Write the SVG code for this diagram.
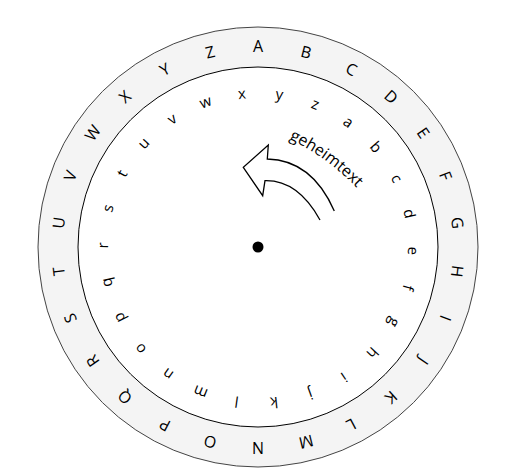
<svg xmlns="http://www.w3.org/2000/svg" width="505" height="472" viewBox="0 0 505 472">
<style>
.up{font-family:"Open Sans","Noto Sans",sans-serif;font-size:16px;fill:#000;text-anchor:middle}
.lo{font-family:"Open Sans","Noto Sans",sans-serif;font-size:15px;fill:#000;text-anchor:middle}
.lbl{font-family:"Open Sans","Noto Sans",sans-serif;font-size:16px;fill:#000}
</style>
<defs>
<path id="lblPath" d="M 289,139 Q 326.5,156.5 358,189"/>
</defs>
<rect width="505" height="472" fill="#fff"/>
<g id="outer-disc">
<circle cx="258" cy="247" r="220" fill="#f4f4f4" stroke="#444" stroke-width="1"/>
<g>
<text class="up" x="258" y="52" transform="rotate(0 258 247)">A</text>
<text class="up" x="258" y="52" transform="rotate(13.846 258 247)">B</text>
<text class="up" x="258" y="52" transform="rotate(27.692 258 247)">C</text>
<text class="up" x="258" y="52" transform="rotate(41.538 258 247)">D</text>
<text class="up" x="258" y="52" transform="rotate(55.385 258 247)">E</text>
<text class="up" x="258" y="52" transform="rotate(69.231 258 247)">F</text>
<text class="up" x="258" y="52" transform="rotate(83.077 258 247)">G</text>
<text class="up" x="258" y="52" transform="rotate(96.923 258 247)">H</text>
<text class="up" x="258" y="52" transform="rotate(110.769 258 247)">I</text>
<text class="up" x="258" y="52" transform="rotate(124.615 258 247)">J</text>
<text class="up" x="258" y="52" transform="rotate(138.462 258 247)">K</text>
<text class="up" x="258" y="52" transform="rotate(152.308 258 247)">L</text>
<text class="up" x="258" y="52" transform="rotate(166.154 258 247)">M</text>
<text class="up" x="258" y="52" transform="rotate(180 258 247)">N</text>
<text class="up" x="258" y="52" transform="rotate(193.846 258 247)">O</text>
<text class="up" x="258" y="52" transform="rotate(207.692 258 247)">P</text>
<text class="up" x="258" y="52" transform="rotate(221.538 258 247)">Q</text>
<text class="up" x="258" y="52" transform="rotate(235.385 258 247)">R</text>
<text class="up" x="258" y="52" transform="rotate(249.231 258 247)">S</text>
<text class="up" x="258" y="52" transform="rotate(263.077 258 247)">T</text>
<text class="up" x="258" y="52" transform="rotate(276.923 258 247)">U</text>
<text class="up" x="258" y="52" transform="rotate(290.769 258 247)">V</text>
<text class="up" x="258" y="52" transform="rotate(304.615 258 247)">W</text>
<text class="up" x="258" y="52" transform="rotate(318.462 258 247)">X</text>
<text class="up" x="258" y="52" transform="rotate(332.308 258 247)">Y</text>
<text class="up" x="258" y="52" transform="rotate(346.154 258 247)">Z</text>
</g>
</g>
<g id="inner-disc">
<circle cx="258" cy="247" r="180" fill="#fff" stroke="#000" stroke-width="1"/>
<g>
<text class="lo" x="258" y="98" transform="rotate(35.615 258 248)">a</text>
<text class="lo" x="258" y="98" transform="rotate(49.462 258 248)">b</text>
<text class="lo" x="258" y="98" transform="rotate(63.308 258 248)">c</text>
<text class="lo" x="258" y="98" transform="rotate(77.154 258 248)">d</text>
<text class="lo" x="258" y="98" transform="rotate(91 258 248)">e</text>
<text class="lo" x="258" y="98" transform="rotate(104.846 258 248)">f</text>
<text class="lo" x="258" y="98" transform="rotate(118.692 258 248)">g</text>
<text class="lo" x="258" y="98" transform="rotate(132.538 258 248)">h</text>
<text class="lo" x="258" y="98" transform="rotate(146.385 258 248)">i</text>
<text class="lo" x="258" y="98" transform="rotate(160.231 258 248)">j</text>
<text class="lo" x="258" y="98" transform="rotate(174.077 258 248)">k</text>
<text class="lo" x="258" y="98" transform="rotate(187.923 258 248)">l</text>
<text class="lo" x="258" y="98" transform="rotate(201.769 258 248)">m</text>
<text class="lo" x="258" y="98" transform="rotate(215.615 258 248)">n</text>
<text class="lo" x="258" y="98" transform="rotate(229.462 258 248)">o</text>
<text class="lo" x="258" y="98" transform="rotate(243.308 258 248)">p</text>
<text class="lo" x="258" y="98" transform="rotate(257.154 258 248)">q</text>
<text class="lo" x="258" y="98" transform="rotate(271 258 248)">r</text>
<text class="lo" x="258" y="98" transform="rotate(284.846 258 248)">s</text>
<text class="lo" x="258" y="98" transform="rotate(298.692 258 248)">t</text>
<text class="lo" x="258" y="98" transform="rotate(312.538 258 248)">u</text>
<text class="lo" x="258" y="98" transform="rotate(326.385 258 248)">v</text>
<text class="lo" x="258" y="98" transform="rotate(340.231 258 248)">w</text>
<text class="lo" x="258" y="98" transform="rotate(354.077 258 248)">x</text>
<text class="lo" x="258" y="98" transform="rotate(7.923 258 248)">y</text>
<text class="lo" x="258" y="98" transform="rotate(21.769 258 248)">z</text>
</g>
</g>
<g id="rotation-arrow">
<path d="M 334.3,211 Q 312,160 267.3,159 L 268.3,145 L 243.3,167.3 L 262.7,195.7 L 265,180.7 Q 298,180 320,220" fill="#fff" stroke="#000" stroke-width="1.3" stroke-linejoin="miter"/>
<text class="lbl"><textPath href="#lblPath">geheimtext</textPath></text>
</g>
<g id="pivot">
<circle cx="258" cy="247" r="5.5" fill="#000"/>
</g>
</svg>
